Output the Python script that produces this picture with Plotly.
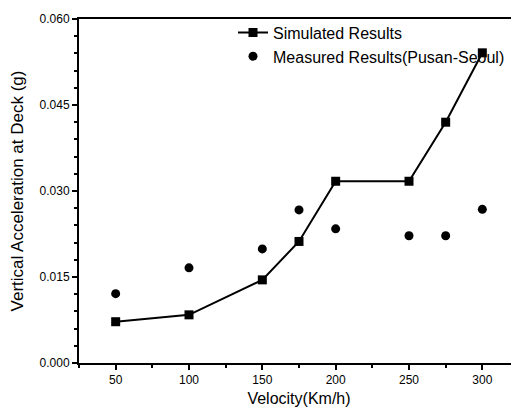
import plotly.graph_objects as go

# velocity (km/h)
velocity = [50, 100, 150, 175, 200, 250, 275, 300]
# vertical acceleration at deck (g)
simulated = [0.0072, 0.0084, 0.0145, 0.0212, 0.0317, 0.0317, 0.0420, 0.0541]
measured = [0.0121, 0.0166, 0.0199, 0.0267, 0.0234, 0.0222, 0.0222, 0.0268]

font_name = "Liberation Sans, Arial, sans-serif"

fig = go.Figure()
fig.add_trace(go.Scatter(x=velocity, y=simulated, mode="lines+markers",
                         name="Simulated Results",
                         line=dict(color="black", width=2),
                         marker=dict(symbol="square", size=9, color="black")))
fig.add_trace(go.Scatter(x=velocity, y=measured, mode="markers",
                         name="Measured Results(Pusan-Seoul)",
                         marker=dict(symbol="circle", size=9, color="black")))

axis_common = dict(showline=True, linecolor="black", linewidth=2, mirror=True,
                   ticks="outside", ticklen=5, tickwidth=1.5, tickcolor="black",
                   showgrid=False, zeroline=False, automargin=False,
                   ticklabeloverflow="allow",
                   tickfont=dict(family=font_name, size=12, color="black"),
                   title_font=dict(family=font_name, size=16, color="black"))

fig.update_xaxes(range=[25, 325], tickvals=[50, 100, 150, 200, 250, 300],
                 minor=dict(dtick=25, tick0=25, ticks="outside", ticklen=3, tickcolor="black"),
                 title_text="Velocity(Km/h)", title_standoff=6, **axis_common)
fig.update_yaxes(range=[0, 0.06], tickvals=[0, 0.015, 0.03, 0.045, 0.06],
                 ticktext=["0.000", "0.015", "0.030", "0.045", "0.060"],
                 minor=dict(dtick=0.003, ticks="outside", ticklen=3, tickcolor="black"),
                 title_text="Vertical Acceleration at Deck (g)", title_standoff=14, **axis_common)
fig.update_yaxes(title_font_size=17)

fig.update_layout(width=519, height=420,
                  margin=dict(l=71, r=8, t=8, b=65),
                  plot_bgcolor="white", paper_bgcolor="white",
                  font=dict(family=font_name, color="black"),
                  legend=dict(x=0.35, y=1.01, xanchor="left", yanchor="top",
                              bgcolor="rgba(0,0,0,0)", tracegroupgap=0,
                              font=dict(family=font_name, size=16, color="black")))

fig.write_html("out.html")
